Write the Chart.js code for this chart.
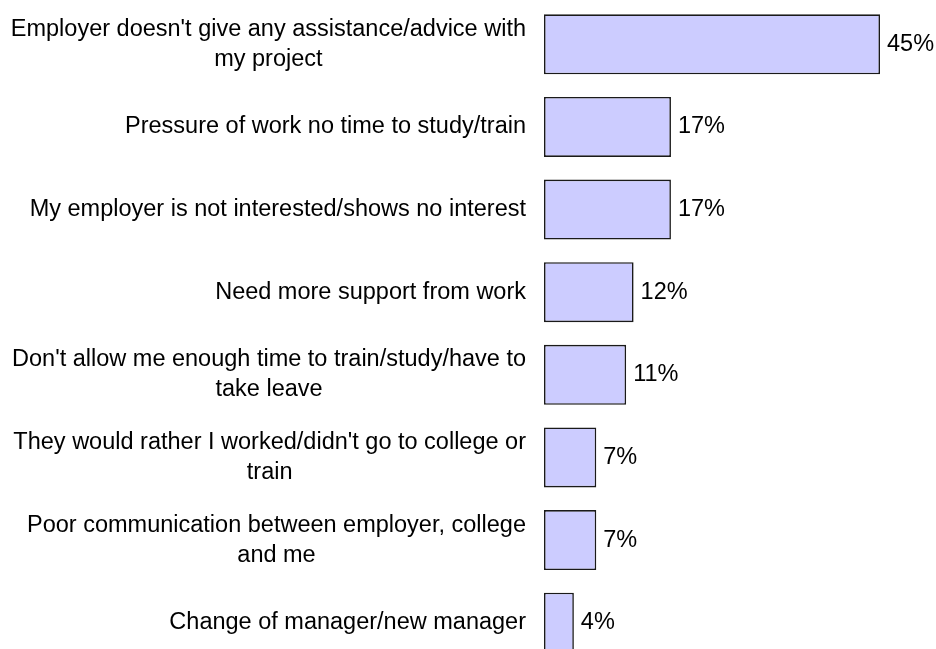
<!DOCTYPE html>
<html>
<head>
<meta charset="utf-8">
<script src="https://cdn.jsdelivr.net/npm/chart.js@4"></script>
<style>
  html, body { margin: 0; padding: 0; background: #fff; overflow: hidden; }
  #wrap { position: relative; width: 936px; height: 664px; }
</style>
</head>
<body>
<div id="wrap"><canvas id="chart"></canvas></div>
<script>
// Reasons given, one entry per bar (arrays are wrapped lines)
var reasons = [
    ["Employer doesn't give any assistance/advice with", "my project"],
    ["Pressure of work no time to study/train"],
    ["My employer is not interested/shows no interest"],
    ["Need more support from work"],
    ["Don't allow me enough time to train/study/have to", "take leave"],
    ["They would rather I worked/didn't go to college or", "train"],
    ["Poor communication between employer, college", "and me"],
    ["Change of manager/new manager"]
];
var percents = [45, 17, 17, 12, 11, 7, 7, 4];

var fontFamily = '"Liberation Sans", Arial, sans-serif';
var fontSize = 23.5;
var lineGap = 30;

// Category labels: block right-aligned to the axis, lines centred inside the block
var reasonLabels = {
    id: 'reasonLabels',
    afterDraw: function (chart) {
        const ctx = chart.ctx;
        const yScale = chart.scales.y;
        const right = chart.chartArea.left - 18;
        ctx.save();
        ctx.font = fontSize + 'px ' + fontFamily;
        ctx.fillStyle = '#000';
        ctx.textAlign = 'center';
        ctx.textBaseline = 'middle';
        reasons.forEach(function (lines, i) {
            const w = Math.max.apply(null, lines.map(l => ctx.measureText(l).width));
            const cx = right - w / 2;
            const cy = yScale.getPixelForValue(i);
            const top = cy - (lines.length - 1) * lineGap / 2;
            lines.forEach(function (line, j) {
                ctx.fillText(line, cx, top + j * lineGap);
            });
        });
        ctx.restore();
    }
};

// Percentage printed just past the end of each bar
var valueLabels = {
    id: 'valueLabels',
    afterDatasetsDraw: function (chart) {
        const ctx = chart.ctx;
        const meta = chart.getDatasetMeta(0);
        ctx.save();
        ctx.font = fontSize + 'px ' + fontFamily;
        ctx.fillStyle = '#000';
        ctx.textAlign = 'left';
        ctx.textBaseline = 'middle';
        meta.data.forEach(function (bar, i) {
            ctx.fillText(percents[i] + '%', bar.x + 7, bar.y);
        });
        ctx.restore();
    }
};

new Chart(document.getElementById('chart'), {
    type: 'bar',
    data: {
        labels: reasons.map(l => l.join(' ')),
        datasets: [{
            data: percents,
            backgroundColor: '#ccccff',
            borderColor: '#1a1a1a',
            borderWidth: 1.6,
            borderSkipped: false,
            categoryPercentage: 1,
            barPercentage: 0.725,
        }]
    },
    options: {
        indexAxis: 'y',
        responsive: true,
        maintainAspectRatio: false,
        animation: false,
        layout: { padding: { left: 544, right: 56, top: 3, bottom: 0 } },
        plugins: {
            legend: { display: false },
            tooltip: { enabled: false },
        },
        scales: {
            x: { display: false, min: 0, max: 45 },
            y: { display: false },
        },
    },
    plugins: [reasonLabels, valueLabels],
});
</script>
</body>
</html>
